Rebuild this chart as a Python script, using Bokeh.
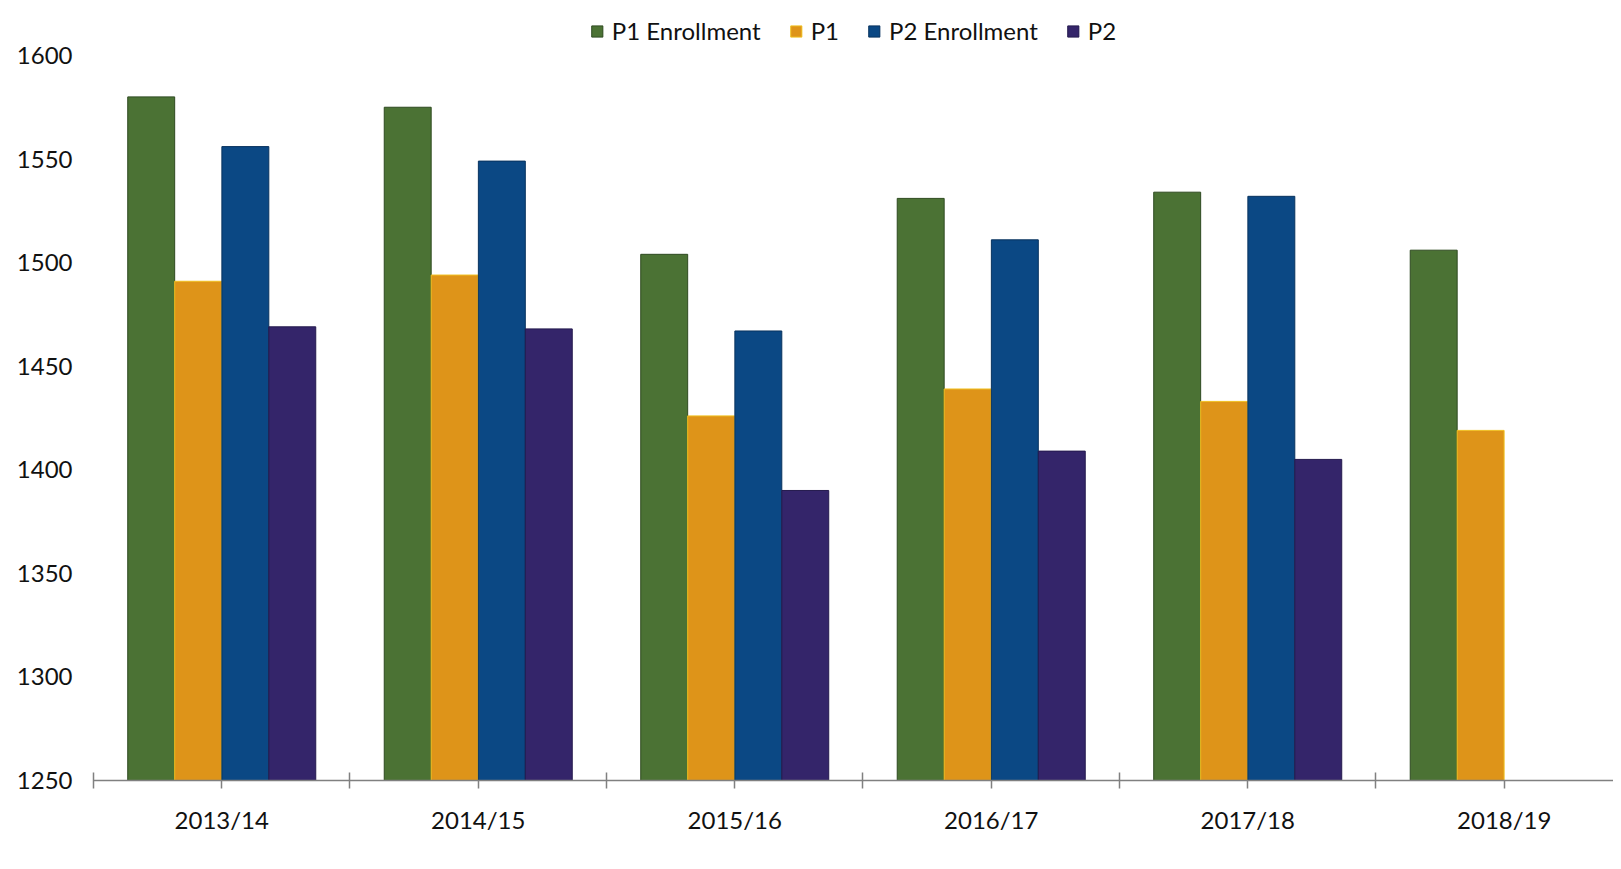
import math
from bokeh.plotting import figure
from bokeh.models import (ColumnDataSource, Range1d, FixedTicker, Legend, LegendItem)
from bokeh.transform import dodge
from bokeh.embed import file_html
from bokeh.resources import INLINE

# ---- data ----
years = ["2013/14", "2014/15", "2015/16", "2016/17", "2017/18", "2018/19"]
p1_enrollment = [1580, 1575, 1504, 1531, 1534, 1506]
p1 = [1491, 1494, 1426, 1439, 1433, 1419]
p2_enrollment = [1556, 1549, 1467, 1511, 1532, float("nan")]
p2 = [1469, 1468, 1390, 1409, 1405, float("nan")]
y_ticks = [1250, 1300, 1350, 1400, 1450, 1500, 1550, 1600]

series_names = ["P1 Enrollment", "P1", "P2 Enrollment", "P2"]
series_values = [p1_enrollment, p1, p2_enrollment, p2]
fill_colors = ["#4b7234", "#de9419", "#0b4884", "#34256a"]
edge_colors = ["#2e4a20", "#f0c020", "#08325e", "#241a4e"]
offsets = [-0.275, -0.092, 0.092, 0.275]
bar_w = 0.183

FONT = "Lato"

centers = [i + 0.5 for i in range(len(years))]
src = ColumnDataSource(dict(
    x=centers,
    s0=p1_enrollment, s1=p1, s2=p2_enrollment, s3=p2,
))

p = figure(width=1613, height=840, output_backend="svg", toolbar_location=None,
           x_range=Range1d(0, 5.926), y_range=Range1d(1250, 1621.7),
           min_border_left=93, min_border_right=0, min_border_top=10,
           min_border_bottom=60)
p.outline_line_color = None
p.xgrid.visible = False
p.ygrid.visible = False
p.background_fill_color = "white"
p.border_fill_color = "white"

renderers = []
for k in range(4):
    r = p.vbar(x=dodge("x", offsets[k], range=p.x_range), top="s%d" % k, bottom=1250,
               width=bar_w, source=src, fill_color=fill_colors[k],
               line_color=edge_colors[k], line_width=1)
    renderers.append(r)

# y axis
p.yaxis.ticker = FixedTicker(ticks=y_ticks)
p.yaxis.axis_line_color = None
p.yaxis.major_tick_line_color = None
p.yaxis.minor_tick_line_color = None
p.yaxis.major_label_standoff = 15
p.yaxis.major_label_text_font = FONT
p.yaxis.major_label_text_font_size = "24px"
p.yaxis.major_label_text_color = "#111111"

# x axis
p.xaxis.ticker = FixedTicker(ticks=centers, minor_ticks=[float(i) for i in range(len(years))])
p.xaxis.major_label_overrides = {c: y for c, y in zip(centers, years)}
p.xaxis.axis_line_color = "#808080"
p.xaxis.axis_line_width = 1.5
p.xaxis.major_tick_line_color = "#808080"
p.xaxis.major_tick_line_width = 1.5
p.xaxis.major_tick_in = 0
p.xaxis.major_tick_out = 8
p.xaxis.minor_tick_line_color = "#808080"
p.xaxis.minor_tick_line_width = 1.5
p.xaxis.minor_tick_in = 8
p.xaxis.minor_tick_out = 8
p.xaxis.major_label_standoff = 16
p.xaxis.major_label_text_font = FONT
p.xaxis.major_label_text_font_size = "24px"
p.xaxis.major_label_text_color = "#111111"

legend = Legend(items=[LegendItem(label=n, renderers=[r]) for n, r in zip(series_names, renderers)],
                orientation="horizontal", location="top_center")
legend.background_fill_alpha = 0
legend.border_line_color = None
legend.label_text_font = FONT
legend.label_text_font_size = "24px"
legend.label_text_color = "#111111"
legend.glyph_width = 14
legend.glyph_height = 14
legend.label_standoff = 8
legend.spacing = 28
legend.padding = 0
legend.margin = 6
p.add_layout(legend)

open("out.html", "w").write(file_html(p, INLINE))
